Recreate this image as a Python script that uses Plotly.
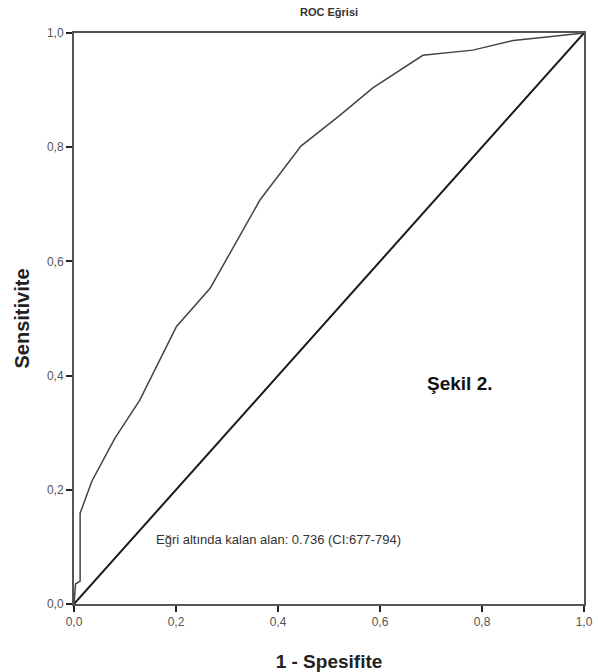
import plotly.graph_objects as go

# ROC curve points (1 - specificity, sensitivity)
fpr = [0.0, 0.003, 0.012, 0.012, 0.035, 0.08, 0.129, 0.201, 0.267, 0.31, 0.365, 0.445, 0.52, 0.586, 0.684, 0.782, 0.861, 0.927, 1.0]
tpr = [0.0, 0.035, 0.04, 0.159, 0.215, 0.29, 0.357, 0.486, 0.553, 0.62, 0.708, 0.802, 0.855, 0.904, 0.961, 0.970, 0.987, 0.993, 1.0]
ref_x = [0.0, 1.0]
ref_y = [0.0, 1.0]
tick_vals = [0.0, 0.2, 0.4, 0.6, 0.8, 1.0]
tick_text = ["0,0", "0,2", "0,4", "0,6", "0,8", "1,0"]

W, H = 598, 672
ml, mr, mt, mb = 74, 14, 33, 68
ph = H - mt - mb
pw = W - ml - mr

fig = go.Figure()
fig.add_trace(go.Scatter(x=ref_x, y=ref_y, mode="lines",
                         line=dict(color="#1a1a1a", width=2), showlegend=False))
fig.add_trace(go.Scatter(x=fpr, y=tpr, mode="lines",
                         line=dict(color="#444444", width=1.5), showlegend=False))

axis_common = dict(range=[0, 1], tickvals=tick_vals, ticktext=tick_text,
                   ticks="outside", ticklen=6, tickwidth=2, tickcolor="#222",
                   showgrid=False, zeroline=False, showline=True, mirror=True,
                   linecolor="#555", linewidth=2, automargin=False,
                   tickfont=dict(family="Liberation Sans", size=12, color="#555"))

fig.update_layout(
    width=W, height=H,
    margin=dict(l=ml, r=mr, t=mt, b=mb),
    paper_bgcolor="white", plot_bgcolor="white",
    xaxis=dict(**axis_common,
               title=dict(text="<b>1 - Spesifite</b>", standoff=26,
                          font=dict(family="Liberation Sans", size=19, color="#222"))),
    yaxis=dict(**axis_common,
               title=dict(text="<b>Sensitivite</b>", standoff=12,
                          font=dict(family="Liberation Sans", size=20, color="#222"))),
    annotations=[
        dict(text="<b>ROC Eğrisi</b>", x=(329 - ml) / pw, xref="paper", y=1 + 21 / ph, yref="paper",
             showarrow=False, xanchor="center", yanchor="middle",
             font=dict(family="Liberation Sans", size=11, color="#333")),
        dict(text="<b>Şekil 2.</b>", x=(460 - ml) / pw, xref="paper", y=(604 - 383) / ph, yref="paper",
             showarrow=False, xanchor="center", yanchor="middle",
             font=dict(family="Liberation Sans", size=19, color="#111")),
        dict(text="Eğri altında kalan alan: 0.736 (CI:677-794)", x=(154 - ml) / pw, xref="paper",
             y=(604 - 539) / ph, yref="paper",
             showarrow=False, xanchor="left", yanchor="middle",
             font=dict(family="Liberation Sans", size=13, color="#333")),
    ],
)

fig.write_html("out.html", config={"displayModeBar": False},
               post_script="document.body.style.margin='0';document.body.style.padding='0';")
